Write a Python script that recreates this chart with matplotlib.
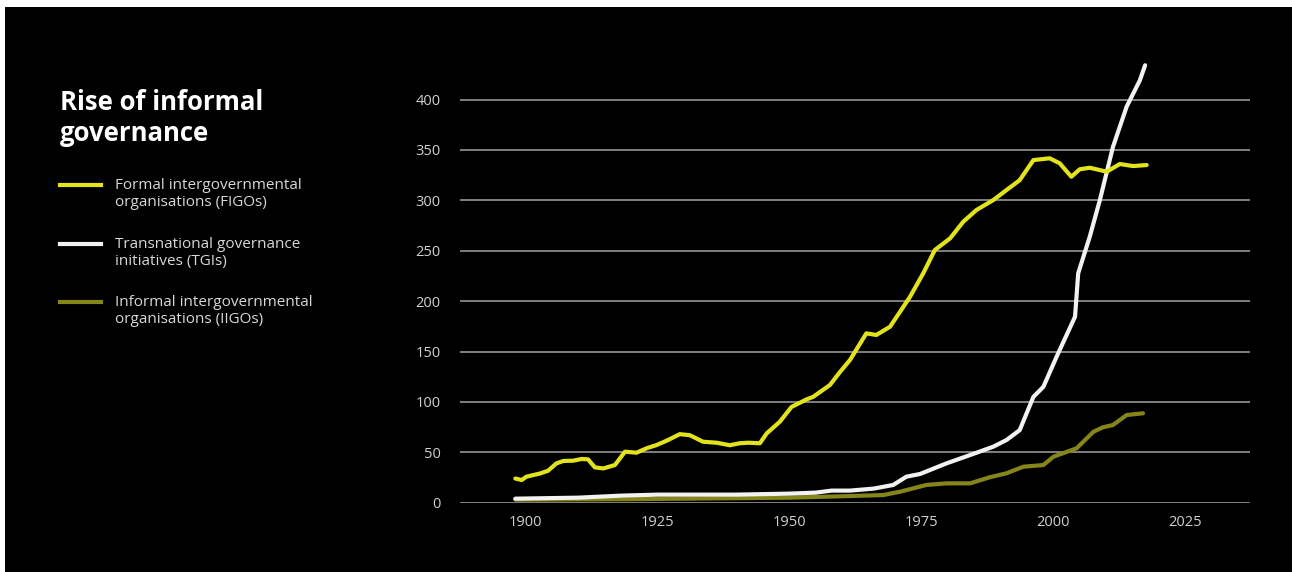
import matplotlib.pyplot as plt
from matplotlib.patches import Rectangle

# Formal intergovernmental organisations (FIGOs)
figo_years = [1898, 1899.2, 1900.1, 1902.7, 1904.2, 1905.8, 1907.1, 1909, 1910.6, 1911.8,
              1913.1, 1914.7, 1916.9, 1918.8, 1921, 1922.9, 1924.8, 1926.7, 1929.2, 1931.1,
              1933.6, 1936.2, 1938.7, 1940.6, 1942.2, 1944.4, 1945.7, 1948.2, 1950.4, 1953.3,
              1954.5, 1957.7, 1959.6, 1961.5, 1964.6, 1966.5, 1969.1, 1972.9, 1975.4, 1977.6,
              1980.5, 1983, 1985.5, 1988.7, 1991.2, 1993.7, 1996.3, 1999.4, 2001.3, 2003.5,
              2005.1, 2007, 2010.2, 2012.7, 2015.2, 2017.8]
figo_vals = [24, 22.5, 25.8, 29, 31.7, 39, 41.4, 41.7, 43.4, 43,
             35, 34, 37.4, 50.6, 49.6, 54, 57.2, 61.5, 68, 67,
             60.5, 59.5, 57, 59, 59.5, 59, 68.8, 80.4, 95, 102.6,
             105, 116.8, 129.7, 141.6, 168, 166.4, 174.6, 204.4, 227.6, 250.7,
             262.3, 278.8, 290.4, 300.3, 310.2, 320, 339.9, 341.7, 336.7, 323.4,
             330.8, 332.3, 328.4, 336, 334, 335]

# Transnational governance initiatives (TGIs)
tgi_years = [1898, 1910, 1918, 1925, 1940, 1950, 1955, 1958, 1961.5, 1966, 1969.7,
             1972.2, 1974.8, 1979.8, 1984.3, 1988.7, 1991.2, 1993.7, 1996.3, 1998.2,
             2000.7, 2004.2, 2004.8, 2007, 2008.9, 2011.4, 2014, 2016.5, 2017.5]
tgi_vals = [4, 5, 7, 8, 8, 9, 10, 12, 12, 14, 17.6,
            25.8, 28.5, 39, 47.3, 55.6, 62.2, 72, 105, 115,
            144.8, 184.5, 227.6, 264, 300, 353, 393, 419, 434]

# Informal intergovernmental organisations (IIGOs)
iigo_years = [1898, 1920, 1950, 1961.5, 1967.8, 1971, 1976, 1979.8, 1984.3, 1988,
              1991.2, 1994.4, 1998.2, 2000.1, 2004.5, 2007.7, 2009.5, 2011.4, 2014, 2017.1]
iigo_vals = [3, 3.5, 5, 6.6, 7.6, 10.9, 17.6, 19.2, 19.2, 25.2,
             29.2, 35.7, 37.4, 45.6, 54, 70.4, 74.8, 77.1, 87, 88.7]

series_labels = ['Formal intergovernmental\norganisations (FIGOs)',
                 'Transnational governance\ninitiatives (TGIs)',
                 'Informal intergovernmental\norganisations (IIGOs)']
colors = ['#e3e31c', '#f2f2f2', '#85851a']

plt.rcParams['font.family'] = ['Open Sans', 'DejaVu Sans']

fig = plt.figure(figsize=(12.92, 5.72), dpi=100, facecolor='black')
# white strips along top and left edge of the screenshot
fig.patches.append(Rectangle((0, 1 - 7 / 572), 1, 7 / 572, transform=fig.transFigure,
                             facecolor='white', edgecolor='none'))
fig.patches.append(Rectangle((0, 0), 5 / 1292, 1, transform=fig.transFigure,
                             facecolor='white', edgecolor='none'))

ax = fig.add_axes([460 / 1292, 1 - 502.7 / 572, 790 / 1292, 443.5 / 572])
ax.set_zorder(3)
ax.set_facecolor('black')

for xs, ys, c in [(iigo_years, iigo_vals, colors[2]),
                  (tgi_years, tgi_vals, colors[1]),
                  (figo_years, figo_vals, colors[0])]:
    ax.plot(xs, ys, color=c, lw=3, clip_on=False, solid_capstyle='round',
            solid_joinstyle='round')

ax.set_xlim(1887.5, 2037.4)
ax.set_ylim(0, 440)
ax.set_yticks(range(0, 401, 50))
ax.set_xticks([1900, 1925, 1950, 1975, 2000, 2025])
ax.yaxis.grid(True, color='#8a8a8a', lw=1.3)
ax.set_axisbelow(True)
for s in ['top', 'right', 'left', 'bottom']:
    ax.spines[s].set_visible(False)
ax.tick_params(length=0, colors='#d0d0d0', labelsize=10.5)
ax.tick_params(axis='y', pad=14)
ax.tick_params(axis='x', pad=9)

fig.text(60 / 1292, 1 - 118 / 572, 'Rise of informal\ngovernance', color='white',
         fontsize=18.5, fontweight='bold', va='center', ha='left', linespacing=1.17)

legend_y = [194, 253, 311]
for lab, c, yy in zip(series_labels, colors, legend_y):
    fig.add_artist(plt.Line2D([60 / 1292, 101 / 1292], [1 - (yy - 9) / 572] * 2,
                              color=c, lw=3, transform=fig.transFigure))
    fig.text(115 / 1292, 1 - yy / 572, lab, color='#d8d8d8', fontsize=11,
             va='center', ha='left', linespacing=1.15)

fig.savefig('out.png', dpi=100, facecolor=fig.get_facecolor())
